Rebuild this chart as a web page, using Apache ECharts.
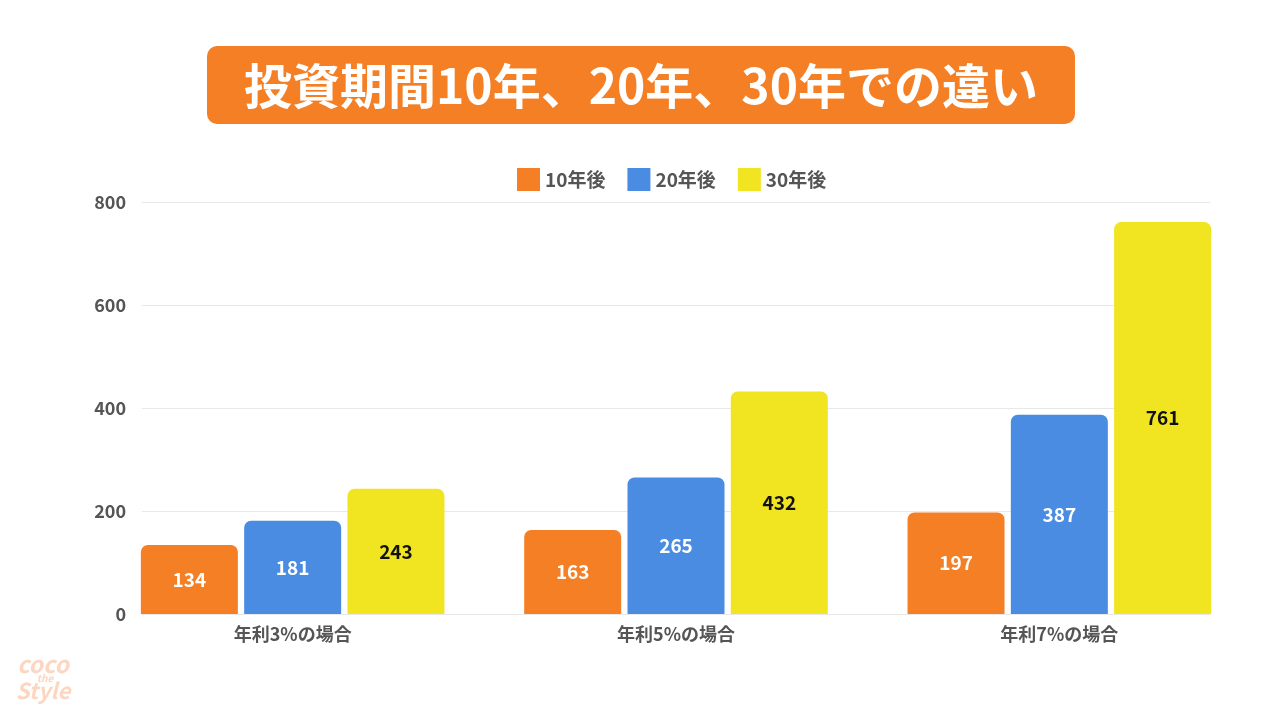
<!DOCTYPE html>
<html><head><meta charset="utf-8">
<script src="https://cdn.jsdelivr.net/npm/echarts@6/dist/echarts.min.js"></script>
<style>html,body{margin:0;padding:0;background:#fff}#c{width:1282px;height:716px}</style>
</head><body><div id="c"></div>
<script>
const categories = ['年利3%の場合', '年利5%の場合', '年利7%の場合'];
const seriesNames = ['10年後', '20年後', '30年後'];
const after10 = [134, 163, 197];
const after20 = [181, 265, 387];
const after30 = [243, 432, 761];
const yTicks = [0, 200, 400, 600, 800];
const titleText = '投資期間10年、20年、30年での違い';

const colors = ['#F47F24', '#4A8CE1', '#F1E420'];
const labelColors = ['#ffffff', '#ffffff', '#111111'];
const font = '"Noto Sans CJK JP", "Noto Sans", sans-serif';
const dataSets = [after10, after20, after30];

const chart = echarts.init(document.getElementById('c'));
chart.setOption({
  animation: false,
  textStyle: { fontFamily: font },
  graphic: [
    { type: 'rect', shape: { x: 207, y: 46, width: 868, height: 78, r: 10 }, style: { fill: '#F47F24' } },
    { type: 'text', x: 641, y: 86, style: { text: titleText, fill: '#fff', font: 'bold 48px ' + font, textAlign: 'center', textVerticalAlign: 'middle' } },
    { type: 'text', x: 43, y: 664, style: { text: 'coco', fill: '#FCD6C0', font: 'italic bold 23px ' + font, textAlign: 'center', textVerticalAlign: 'middle' } },
    { type: 'text', x: 45, y: 678, style: { text: 'the', fill: '#FCD6C0', font: 'italic bold 10px ' + font, textAlign: 'center', textVerticalAlign: 'middle' } },
    { type: 'text', x: 43, y: 691, style: { text: 'Style', fill: '#FCD6C0', font: 'italic bold 22px ' + font, textAlign: 'center', textVerticalAlign: 'middle' } }
  ],
  legend: {
    top: 163, left: 512,
    itemWidth: 23, itemHeight: 23, itemGap: 22,
    icon: 'rect',
    textStyle: { color: '#555', fontSize: 19, fontWeight: 'bold', fontFamily: font },
    data: seriesNames
  },
  grid: [
    { left: 142, right: 72, top: 202, bottom: 102 },
    { left: 101, right: 31, top: 202, bottom: 102 }
  ],
  xAxis: [
    { type: 'category', gridIndex: 0, data: categories, show: false },
    { type: 'category', gridIndex: 1, data: categories,
      axisLine: { show: false }, axisTick: { show: false },
      axisLabel: { color: '#555', fontSize: 18, fontWeight: 'bold', margin: 11, fontFamily: font } }
  ],
  yAxis: [
    { type: 'value', gridIndex: 0, min: 0, max: 800, interval: 200,
      axisLine: { show: false }, axisTick: { show: false },
      axisLabel: { color: '#555', fontSize: 18, fontWeight: 'bold', margin: 16, fontFamily: font,
        formatter: v => yTicks.includes(v) ? String(v) : '' },
      splitLine: { lineStyle: { color: '#e8e8e8', width: 1 } } },
    { type: 'value', gridIndex: 1, min: 0, max: 800, interval: 200, show: false, splitLine: { show: false } }
  ],
  series: seriesNames.map((name, i) => ({
    name, type: 'bar', xAxisIndex: 1, yAxisIndex: 1,
    data: dataSets[i],
    barWidth: 97, barGap: '6.5%',
    itemStyle: { color: colors[i], borderRadius: [7, 7, 0, 0] },
    label: { show: true, position: 'inside', color: labelColors[i], fontSize: 19, fontWeight: 'bold', fontFamily: font }
  }))
});
</script></body></html>
